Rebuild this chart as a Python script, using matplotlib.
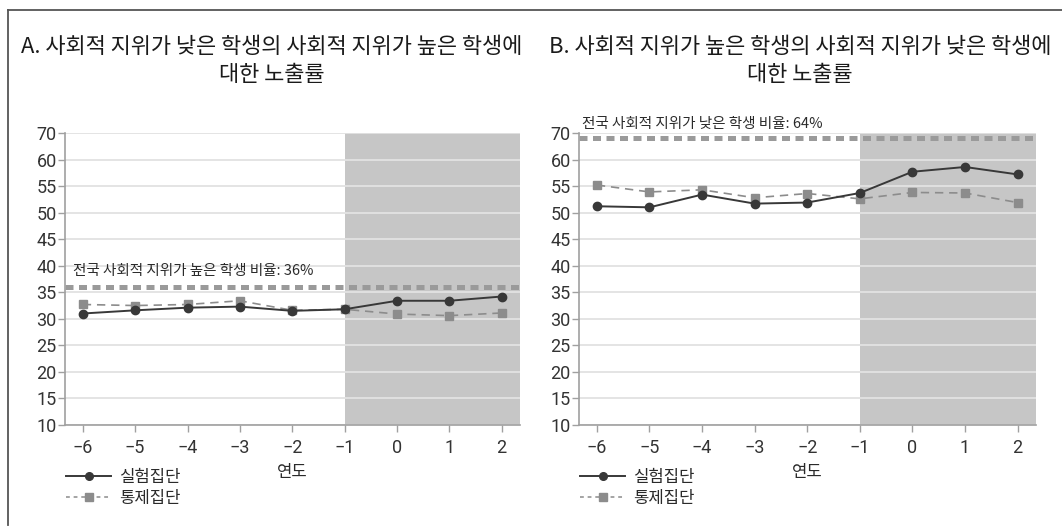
import matplotlib
matplotlib.use("Agg")
import matplotlib.pyplot as plt
from matplotlib.lines import Line2D

plt.rcParams['font.family'] = ['Noto Sans CJK KR', 'DejaVu Sans']

# ---------------- data ----------------
years = [-6, -5, -4, -3, -2, -1, 0, 1, 2]

a_experiment = [31.0, 31.6, 32.1, 32.3, 31.5, 31.8, 33.4, 33.4, 34.2]
a_control = [32.7, 32.5, 32.7, 33.4, 31.6, 31.8, 30.9, 30.6, 31.1]
a_reference = 36
a_reference_label = "전국 사회적 지위가 높은 학생 비율: 36%"
a_title = "A. 사회적 지위가 낮은 학생의 사회적 지위가 높은 학생에\n대한 노출률"

b_experiment = [51.2, 51.0, 53.4, 51.7, 51.9, 53.7, 57.7, 58.6, 57.2]
b_control = [55.2, 53.9, 54.3, 52.8, 53.6, 52.6, 53.8, 53.7, 51.9]
b_reference = 64
b_reference_label = "전국 사회적 지위가 낮은 학생 비율: 64%"
b_title = "B. 사회적 지위가 높은 학생의 사회적 지위가 낮은 학생에\n대한 노출률"

y_tick_values = [10, 15, 20, 25, 30, 35, 40, 45, 50, 55, 60, 65]
y_tick_labels = ["10", "15", "20", "25", "30", "35", "40", "45", "50", "55", "60", "70"]
x_tick_labels = ["−6", "−5", "−4", "−3", "−2", "−1", "0", "1", "2"]
treatment_start = -1
series_names = ["실험집단", "통제집단"]
x_label = "연도"

# ---------------- style ----------------
DARK = "#383838"
MID = "#8c8c8c"
REF = "#9a9a9a"
SHADE = "#c6c6c6"
GRID = "#e2e2e2"
TEXT = "#2a2a2a"
NUMFONT = ['Roboto', 'Noto Sans CJK KR', 'DejaVu Sans']

fig = plt.figure(figsize=(10.62, 5.27), dpi=100)

axA = fig.add_axes([65 / 1062, 102 / 527, 455 / 1062, 292 / 527])
axB = fig.add_axes([579 / 1062, 102 / 527, 457 / 1062, 292 / 527])

XMIN, XMAX = -6.34, 2.35


def draw(ax, exp, ctl, ref, ref_label, label_xy):
    ax.set_xlim(XMIN, XMAX)
    ax.set_ylim(10, 65)
    ax.axvspan(treatment_start, XMAX, color=SHADE, zorder=0.2, lw=0)
    ax.set_axisbelow(True)
    ax.yaxis.grid(True, color=GRID, lw=1.3)
    ax.axhline(ref, color=REF, lw=3.6, linestyle=(0, (1.6, 1.1)), zorder=2)
    ax.plot(years, ctl, color=MID, lw=1.2, linestyle=(0, (5, 3.5)),
            marker='s', ms=6, mfc=MID, mec=MID, zorder=3)
    ax.plot(years, exp, color=DARK, lw=1.4, linestyle='-',
            marker='o', ms=6, mfc=DARK, mec=DARK, zorder=4)
    ax.text(label_xy[0], label_xy[1], ref_label, fontsize=10.5, color=TEXT,
            ha='left', va='bottom', clip_on=False, zorder=5)
    ax.set_xticks(years)
    ax.set_xticklabels(x_tick_labels, family=NUMFONT)
    ax.set_yticks(y_tick_values)
    ax.set_yticklabels(y_tick_labels, family=NUMFONT)
    for s in ['top', 'right']:
        ax.spines[s].set_visible(False)
    for s in ['left', 'bottom']:
        ax.spines[s].set_color('#a0a0a0')
        ax.spines[s].set_linewidth(1.2)
    ax.tick_params(axis='both', colors='#a0a0a0', labelcolor='#333333',
                   labelsize=13, length=5, width=1.0)
    ax.tick_params(axis='x', pad=5)
    ax.tick_params(axis='y', pad=1)
    ax.set_xlabel(x_label, fontsize=12, color=TEXT, labelpad=5)
    handles = [
        Line2D([0], [0], color=DARK, lw=1.4, marker='o', ms=5.5, mfc=DARK, mec=DARK),
        Line2D([0], [0], color=MID, lw=1.1, linestyle=(0, (2.5, 2.5)),
               marker='s', ms=5.5, mfc=MID, mec=MID),
    ]
    leg = ax.legend(handles, series_names, loc='upper left',
                    bbox_to_anchor=(0.003, -0.15), frameon=False,
                    fontsize=12, handlelength=2.7, handletextpad=0.45,
                    labelspacing=0.25, borderaxespad=0, borderpad=0)
    for t in leg.get_texts():
        t.set_color(TEXT)


draw(axA, a_experiment, a_control, a_reference, a_reference_label, (-6.19, 37.6))
draw(axB, b_experiment, b_control, b_reference, b_reference_label, (-6.28, 65.4))

fig.text(272 / 1062, 1 - 61 / 527, a_title, ha='center', va='center',
         fontsize=15.8, color='#1a1a1a', linespacing=1.4, weight='light')
fig.text(800 / 1062, 1 - 61 / 527, b_title, ha='center', va='center',
         fontsize=15.8, color='#1a1a1a', linespacing=1.4, weight='light')

# outer frame (left and top edges)
fig.add_artist(Line2D([8 / 1062, 8 / 1062], [0.003, 1 - 10 / 527],
                      color='#555555', lw=1.3, transform=fig.transFigure))
fig.add_artist(Line2D([8 / 1062, 1.0], [1 - 10 / 527, 1 - 10 / 527],
                      color='#555555', lw=1.3, transform=fig.transFigure))

fig.savefig("out.png", dpi=100, facecolor='white')
